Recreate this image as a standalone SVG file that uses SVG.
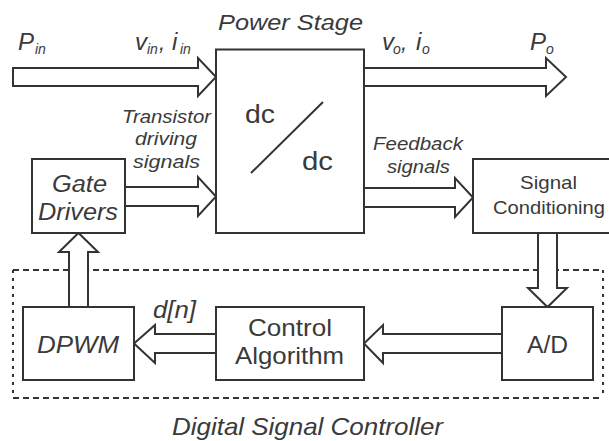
<svg xmlns="http://www.w3.org/2000/svg" width="609" height="441" viewBox="0 0 609 441">
<style>
.box{fill:#fff;stroke:#333;stroke-width:2}
.arr{fill:#fff;stroke:#333;stroke-width:2;stroke-linejoin:miter}
.t{font-family:"Liberation Sans",Arial,sans-serif;fill:#3a3a3a}
.i{font-style:italic}
.dh{stroke:#333;stroke-width:2;stroke-dasharray:6 4;fill:none}
.dv{stroke:#333;stroke-width:2;stroke-dasharray:3 5;fill:none}
</style>
<rect width="609" height="441" fill="#fff"/>
<g id="controller-frame">
<line class="dh" x1="13" y1="270" x2="603" y2="270"/>
<line class="dh" x1="13" y1="398" x2="603" y2="398"/>
<line class="dv" x1="13" y1="270" x2="13" y2="398"/>
<line class="dv" x1="603" y1="270" x2="603" y2="398"/>
<text class="t i" x="172" y="435" font-size="24" textLength="271" lengthAdjust="spacingAndGlyphs">Digital Signal Controller</text>
</g>
<g id="connectors">
<polygon class="arr" points="13,68 198,68 198,58 216,77 198,96 198,86 13,86"/>
<polygon class="arr" points="364,68 546,68 546,58 566,77 546,96 546,86 364,86"/>
<polygon class="arr" points="125,187 198,187 198,177 216,196.5 198,216 198,206 125,206"/>
<polygon class="arr" points="364,188 455,188 455,178 473,197.5 455,217 455,207 364,207"/>
<polygon class="arr" points="538,233 538,288 528,288 547.5,307 567,288 557,288 557,233"/>
<polygon class="arr" points="502,334 383,334 383,325 364,343.5 383,363 383,353 502,353"/>
<polygon class="arr" points="216,334 155,334 155,325 134,343.5 155,363 155,353 216,353"/>
<polygon class="arr" points="69,307 69,252 59,252 78.5,233 98,252 88,252 88,307"/>
</g>
<g id="labels">
<text class="t i" x="18" y="50" font-size="24">P</text>
<text class="t i" x="35" y="54" font-size="14">in</text>
<text class="t i" x="135" y="50" font-size="24">v</text>
<text class="t i" x="147" y="54" font-size="14">in</text>
<text class="t i" x="159" y="50" font-size="22">,</text>
<text class="t i" x="172" y="50" font-size="24">i</text>
<text class="t i" x="180" y="54" font-size="14">in</text>
<text class="t i" x="382" y="50" font-size="24">v</text>
<text class="t i" x="393" y="54" font-size="14">o</text>
<text class="t i" x="401" y="50" font-size="22">,</text>
<text class="t i" x="416" y="50" font-size="24">i</text>
<text class="t i" x="422" y="54" font-size="14">o</text>
<text class="t i" x="530" y="50" font-size="24">P</text>
<text class="t i" x="546" y="54" font-size="14">o</text>
<text class="t i" x="122" y="123" font-size="19" textLength="89" lengthAdjust="spacingAndGlyphs">Transistor</text>
<text class="t i" x="135" y="145" font-size="19" textLength="62" lengthAdjust="spacingAndGlyphs">driving</text>
<text class="t i" x="133" y="168" font-size="19" textLength="67" lengthAdjust="spacingAndGlyphs">signals</text>
<text class="t i" x="373" y="150" font-size="19" textLength="90" lengthAdjust="spacingAndGlyphs">Feedback</text>
<text class="t i" x="387" y="173" font-size="19" textLength="63" lengthAdjust="spacingAndGlyphs">signals</text>
<text class="t i" x="153" y="318" font-size="24" textLength="43" lengthAdjust="spacingAndGlyphs">d[n]</text>
</g>
<g id="power-stage">
<rect class="box" x="216" y="49.5" width="148" height="183.5"/>
<text class="t i" x="218" y="30" font-size="22" textLength="145" lengthAdjust="spacingAndGlyphs">Power Stage</text>
<text class="t" x="245" y="123" font-size="26" textLength="30" lengthAdjust="spacingAndGlyphs">dc</text>
<line x1="251" y1="173" x2="323" y2="102" stroke="#333" stroke-width="2"/>
<text class="t" x="302" y="170" font-size="26" textLength="31" lengthAdjust="spacingAndGlyphs">dc</text>
</g>
<g id="gate-drivers">
<rect class="box" x="32" y="159" width="93" height="74"/>
<text class="t i" x="52" y="192" font-size="23" textLength="55" lengthAdjust="spacingAndGlyphs">Gate</text>
<text class="t i" x="38" y="220" font-size="23" textLength="80" lengthAdjust="spacingAndGlyphs">Drivers</text>
</g>
<g id="signal-conditioning">
<rect class="box" x="473" y="159" width="140" height="74"/>
<text class="t" x="520" y="189" font-size="19" textLength="57" lengthAdjust="spacingAndGlyphs">Signal</text>
<text class="t" x="493" y="214" font-size="19" textLength="112" lengthAdjust="spacingAndGlyphs">Conditioning</text>
</g>
<g id="dpwm">
<rect class="box" x="23" y="307" width="111" height="73"/>
<text class="t i" x="37" y="353" font-size="24" textLength="82" lengthAdjust="spacingAndGlyphs">DPWM</text>
</g>
<g id="control-algorithm">
<rect class="box" x="216" y="307" width="148" height="73"/>
<text class="t" x="248" y="336" font-size="24" textLength="84" lengthAdjust="spacingAndGlyphs">Control</text>
<text class="t" x="235" y="364" font-size="24" textLength="109" lengthAdjust="spacingAndGlyphs">Algorithm</text>
</g>
<g id="ad">
<rect class="box" x="502" y="307" width="91" height="73"/>
<text class="t" x="527" y="353" font-size="23" textLength="41" lengthAdjust="spacingAndGlyphs">A/D</text>
</g>
</svg>
